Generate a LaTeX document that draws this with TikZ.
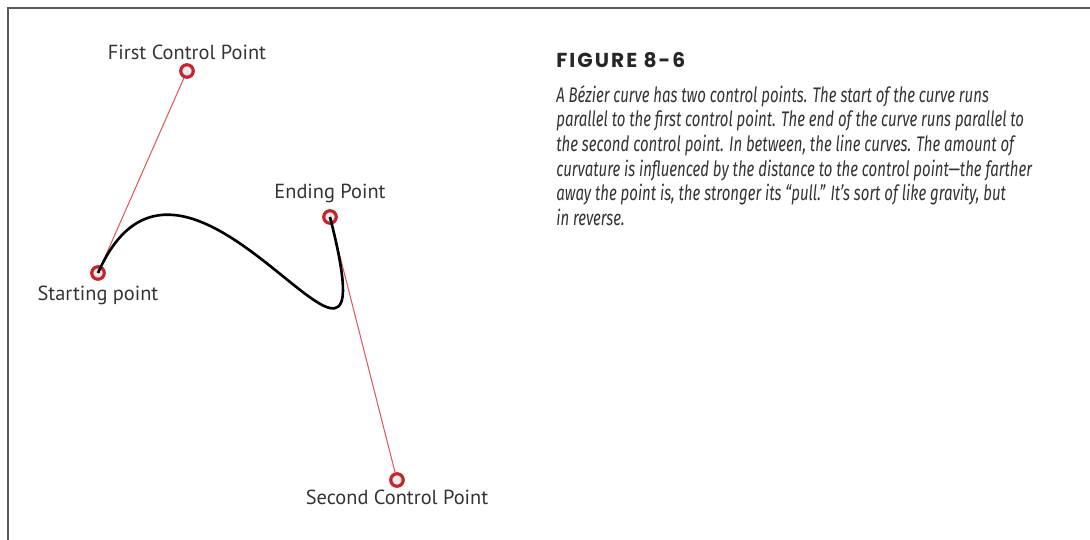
\documentclass[tikz,border=0pt]{standalone}
\usepackage{fontspec}
\setmainfont{PT Sans}
\newfontfamily\headfont[LetterSpace=10]{Poppins}
\newfontfamily\capfont[FakeStretch=0.71]{Fira Sans}
\definecolor{ptred}{HTML}{C4242B}
\definecolor{handlered}{HTML}{E05A5A}
\definecolor{ink}{HTML}{333333}
\tikzset{
  frame/.style={draw=black!65, line width=1.2pt},
  pt/.style={circle, draw=ptred, fill=black!8, line width=1.8pt, minimum size=0.25cm, inner sep=0pt},
  handle/.style={draw=handlered, line width=0.6pt},
  curve/.style={draw=black, line width=1.5pt},
  lbl/.style={font=\fontsize{11.6}{14}\selectfont, text=ink, inner sep=0pt}
}
\begin{document}
\begin{tikzpicture}[x=0.02cm,y=-0.02cm]
    \useasboundingbox (0,0) rectangle (1090,540);
    % Frame
    \draw[frame] (8,540) -- (8,8) -- (1090,8);

    % Points
    \node[pt] (start) at (98,273) {};
    \node[pt] (ctrlA) at (187,71) {};
    \node[pt] (finish) at (330,217) {};
    \node[pt] (ctrlB) at (397,480) {};

    % Handles
    \draw[handle] (start.center) -- (ctrlA);
    \draw[handle] (finish.center) -- (ctrlB);

    % Curve
    \draw[curve] (start.center) .. controls (ctrlA.center) and (ctrlB.center) .. (finish.center);

    % Labels
    \node[lbl, anchor=base] (ctrlAlbl) at (187,60) {First Control Point};
    \node[lbl, anchor=base] (finishlbl) at (330,199) {Ending Point};
    \node[lbl, anchor=base] (startlbl) at (98,301) {Starting point};
    \node[lbl, anchor=base] (ctrlBlbl) at (397,505) {Second Control Point};

    % Caption
    \node[anchor=base west, inner sep=0pt, text=black!85, font=\headfont\bfseries\fontsize{11.5}{13}\selectfont] (fig) at (556,68) {FIGURE 8-6};
    \node[anchor=north west, inner sep=0pt, align=left, text=ink, font=\capfont\itshape\fontsize{12}{14}\selectfont] (cap) at (556,85) {A Bézier curve has two control points. The start of the curve runs\\
parallel to the first control point. The end of the curve runs parallel to\\
the second control point. In between, the line curves. The amount of\\
curvature is influenced by the distance to the control point—the farther\\
away the point is, the stronger its “pull.” It’s sort of like gravity, but\\
in reverse.};
\end{tikzpicture}
\end{document}
